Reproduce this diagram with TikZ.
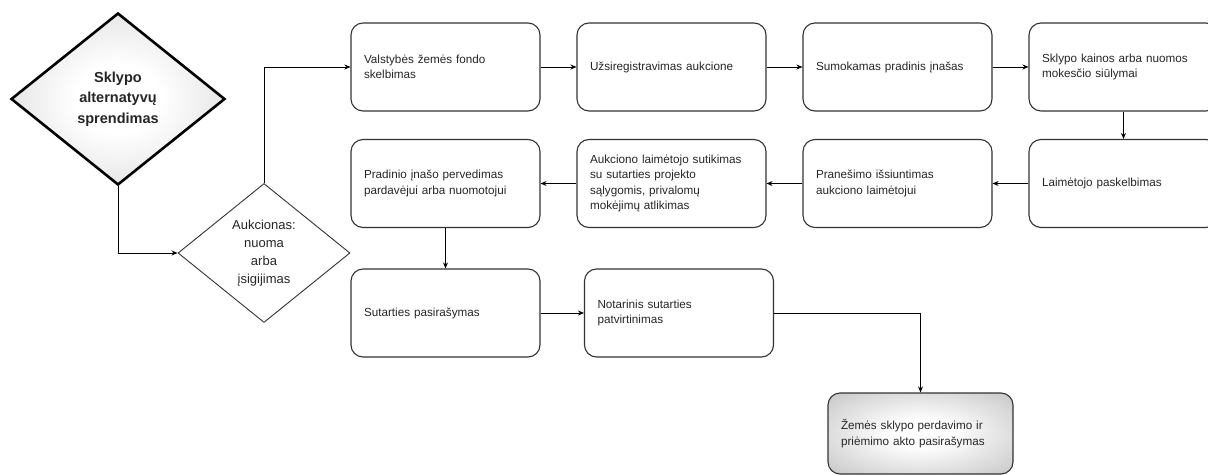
\documentclass[tikz,border=0pt]{standalone}
\usepackage{fontspec}
\setmainfont{Liberation Sans}
\usepackage{xcolor}
\usepackage{tikz}
\usetikzlibrary{shapes.geometric, arrows.meta, positioning}
\pgfdeclareradialshading{softdiamond}{\pgfpointorigin}{color(0bp)=(white); color(10bp)=(white); color(30bp)=(gray!25); color(50bp)=(gray!50)}
\pgfdeclareradialshading{softbox}{\pgfpointorigin}{color(0bp)=(white); color(8bp)=(white); color(30bp)=(gray!35); color(50bp)=(gray!70)}
\tikzstyle{startstop} = [diamond, minimum width=214pt, minimum height=172pt, inner sep=0pt, align=center, draw=black, line width=2.6pt, shading=softdiamond, text=black!85, font=\fontsize{14.5}{20.5}\selectfont\bfseries]
\tikzstyle{decision} = [diamond, minimum width=172pt, minimum height=139pt, inner sep=0pt, align=center, draw=black!80, line width=0.9pt, fill=white, text=black!85, font=\fontsize{13}{18}\selectfont]
\tikzstyle{process} = [rectangle, rounded corners=12pt, minimum width=189pt, minimum height=88pt, text width=163pt, inner xsep=13pt, align=left, draw=black!80, line width=1.1pt, fill=white, text=black!85, font=\fontsize{11.7}{15.5}\selectfont]
\tikzstyle{finish} = [rectangle, rounded corners=12pt, minimum width=185pt, minimum height=81pt, text width=159pt, inner xsep=13pt, align=left, draw=black!80, line width=1.1pt, shading=softbox, text=black!85, font=\fontsize{11.7}{15.5}\selectfont]
\tikzstyle{arrow} = [line width=0.9pt, -{Stealth[length=6pt, width=5pt]}]

\begin{document}
\begin{tikzpicture}[x=1pt, y=1pt, node distance=226pt]
	\clip (0,0) rectangle (1208,475);
	
	% decisions on the left
	\node (start) [startstop] at (118,376) {Sklypo\\alternatyvų\\sprendimas};
	\node (auction) [decision] at (264,222) {Aukcionas:\\nuoma\\arba\\įsigijimas};
	
	% first row
	\node (announce) [process] at (445.5,408) {Valstybės žemės fondo\\skelbimas};
	\node (register) [process, right of=announce] {Užsiregistravimas aukcione};
	\node (deposit) [process, right of=register] {Sumokamas pradinis įnašas};
	\node (bids) [process, right of=deposit] {Sklypo kainos arba nuomos\\mokesčio siūlymai};
	
	% second row, right to left
	\node (winner) [process, below of=bids, node distance=116.5pt] {Laimėtojo paskelbimas};
	\node (notice) [process, left of=winner] {Pranešimo išsiuntimas\\aukciono laimėtojui};
	\node (consent) [process, left of=notice] {Aukciono laimėtojo sutikimas\\su sutarties projekto\\sąlygomis, privalomų\\mokėjimų atlikimas};
	\node (transfer) [process, left of=consent] {Pradinio įnašo pervedimas\\pardavėjui arba nuomotojui};
	
	% third row
	\node (signing) [process, below of=transfer, node distance=129.5pt] {Sutarties pasirašymas};
	\node (notary) [process, right of=signing, node distance=233.5pt] {Notarinis sutarties\\patvirtinimas};
	\node (handover) [finish] at (920.5,41.5) {Žemės sklypo perdavimo ir\\priėmimo akto pasirašymas};
	
	\draw [arrow] (start) |- (auction);
	\draw [arrow] (auction) |- (announce);
	\draw [arrow] (announce) -- (register);
	\draw [arrow] (register) -- (deposit);
	\draw [arrow] (deposit) -- (bids);
	\draw [arrow] (bids) -- (winner);
	\draw [arrow] (winner) -- (notice);
	\draw [arrow] (notice) -- (consent);
	\draw [arrow] (consent) -- (transfer);
	\draw [arrow] (transfer) -- (signing);
	\draw [arrow] (signing) -- (notary);
	\draw [arrow] (notary) -| (handover);
	
\end{tikzpicture}
\end{document}
